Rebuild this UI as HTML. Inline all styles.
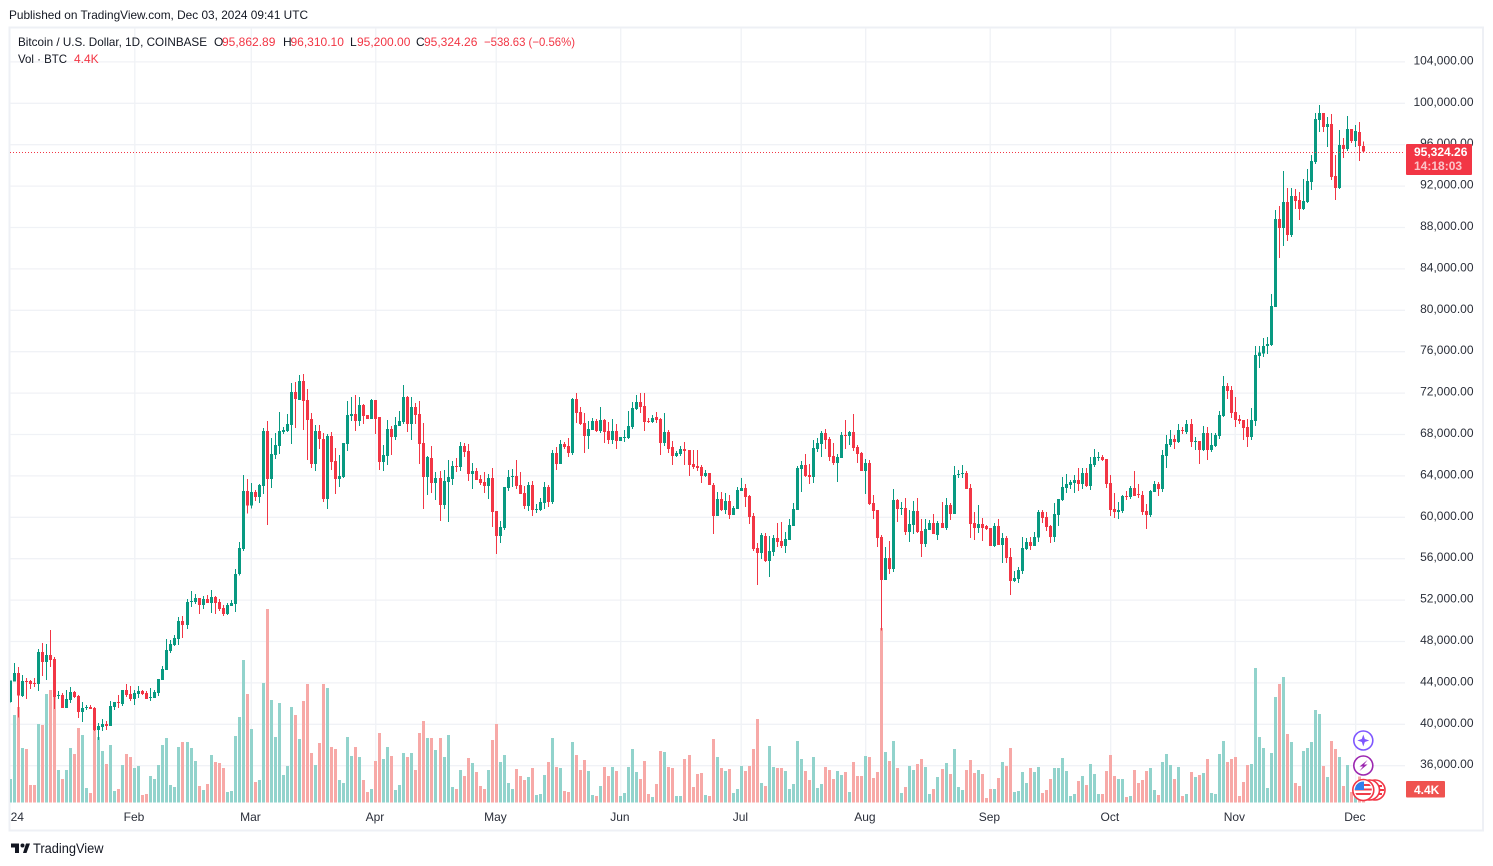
<!DOCTYPE html>
<html lang="en">
<head>
<meta charset="utf-8">
<title>BTC/USD daily chart</title>
<style>
html,body{margin:0;padding:0;background:#fff;width:1493px;height:866px;overflow:hidden}
svg{display:block;font-family:"Liberation Sans",sans-serif}
text{font-size:12px;fill:#131722}
.red{fill:#f23645}
.axis{fill:#2a2e39}
</style>
</head>
<body>
<svg id="root" width="1493" height="866" viewBox="0 0 1493 866">
  <defs>
    <clipPath id="pane"><rect x="10" y="28" width="1395" height="775"/></clipPath>
    <clipPath id="flag-a"><circle cx="1363.3" cy="790" r="8.5"/></clipPath>
  </defs>
  <text x="9" y="19" textLength="299" lengthAdjust="spacingAndGlyphs">Published on TradingView.com, Dec 03, 2024 09:41 UTC</text>
  <rect x="9.5" y="27.5" width="1473.5" height="803" fill="#fff" stroke="#eef0f5" stroke-width="2"/>
  <g id="grid"></g>
  <g id="volumes" clip-path="url(#pane)" shape-rendering="crispEdges"></g>
  <g id="candles" clip-path="url(#pane)" shape-rendering="crispEdges"></g>
  <line id="last-line" x1="10" x2="1405" stroke="#f23645" stroke-width="1" stroke-dasharray="1 2"/>
  <g id="price-axis"></g>
  <g id="time-axis"></g>

  <g>
    <text x="18" y="46" textLength="189" lengthAdjust="spacingAndGlyphs">Bitcoin / U.S. Dollar, 1D, COINBASE</text>
    <text x="214" y="46">O</text>
    <text x="222" y="46" class="red">95,862.89</text>
    <text x="283" y="46">H</text>
    <text x="290.500" y="46" class="red">96,310.10</text>
    <text x="350" y="46">L</text>
    <text x="357" y="46" class="red">95,200.00</text>
    <text x="416" y="46">C</text>
    <text x="424" y="46" class="red">95,324.26</text>
    <text x="484" y="46" textLength="91" lengthAdjust="spacingAndGlyphs" class="red">−538.63 (−0.56%)</text>
    <text x="18" y="63" textLength="49" lengthAdjust="spacingAndGlyphs">Vol · BTC</text>
    <text x="74" y="63" class="red">4.4K</text>
  </g>

  <g>
    <rect id="last-box" x="1406" y="144" width="66" height="31" rx="1" fill="#f23645"/>
    <text id="last-text" x="1414" y="156" font-weight="bold" style="fill:#fff"></text>
    <text x="1414" y="170" font-weight="bold" style="fill:#fbc4c9">14:18:03</text>
  </g>
  <g>
    <rect x="1406" y="781" width="39" height="16.500" rx="1" fill="#ef5350"/>
    <text x="1414" y="794" font-weight="bold" style="fill:#fff">4.4K</text>
  </g>

  <g>
    <circle cx="1363.3" cy="740.500" r="9.500" fill="#fff" stroke="#7e57ff" stroke-width="1.600"/>
    <path d="M1363.3 734.500 L1364.8 739 L1369.300 740.500 L1364.800 742 L1363.300 746.500 L1361.800 742 L1357.300 740.500 L1361.800 739Z" fill="#7e57ff"/>
  </g>
  <g>
    <circle cx="1363.3" cy="765.500" r="9.500" fill="#fff" stroke="#9c27b0" stroke-width="1.600"/>
    <path d="M1367.500 760 L1359.500 766.500 L1363 766.500 L1359.500 771 L1367.500 764.500 L1364 764.500Z" fill="#9c27b0"/>
  </g>
  <g>
    <circle cx="1375" cy="790" r="10" fill="#fff" stroke="#f23645" stroke-width="1.600"/>
    <path d="M1376 786H1382M1376 790H1384M1376 794H1382" stroke="#f23645" stroke-width="2" fill="none"/>
    <circle cx="1369.500" cy="790" r="10" fill="#fff" stroke="#f23645" stroke-width="1.600"/>
    <circle cx="1363.3" cy="790" r="10.500" fill="#fff" stroke="#f23645" stroke-width="1.600"/>
    <g clip-path="url(#flag-a)">
      <rect x="1354" y="781" width="19" height="18" fill="#fff"/>
      <path d="M1354 785H1373M1354 789.500H1373M1354 794H1373" stroke="#ef3d4a" stroke-width="2"/>
      <rect x="1354" y="781" width="10" height="9" fill="#2f80ed"/>
    </g>
  </g>

  <g>
    <path d="M11 843.500H19V853H15V847.500H11Z M23 853L26 843.500H30L26.500 853Z" fill="#131722"/>
    <circle cx="22.500" cy="845.500" r="2" fill="#131722"/>
    <text x="33" y="853" textLength="70.500" lengthAdjust="spacingAndGlyphs" style="font-size:13.500px">TradingView</text>
  </g>
</svg>

<script>
const monthLabels = ["24","Feb","Mar","Apr","May","Jun","Jul","Aug","Sep","Oct","Nov","Dec"];
const monthDays = [0,31,60,91,121,152,182,213,244,274,305,335];
const priceTicks = [104000,100000,96000,92000,88000,84000,80000,76000,72000,68000,64000,60000,56000,52000,48000,44000,40000,36000];
const opens = [
42165,44130,44966,42712,44193,44193,44000,43904,46995,46029,
46705,46319,42780,42840,41585,42358,43131,42744,41199,41585,
41682,41585,39460,39750,40040,39846,41682,42165,41971,43324,
42937,42455,42937,43227,43034,42551,42551,43034,44290,45256,
47092,47671,48251,49989,49603,51825,51825,52211,51535,52115,
51728,52308,51825,51245,50666,51439,51632,54530,56945,62547,
61130,62451,61968,63030,68343,63707,66025,66894,68247,68343,
68923,72111,71338,73173,71338,69503,65156,68343,67571,61774,
67860,65446,63707,63900,67088,69793,69986,69309,70855,69889,
69503,71338,69696,65349,65928,68537,67764,68826,69213,71628,
69020,70662,69986,67184,63900,65735,63320,63803,61195,63417,
63707,64962,64865,66894,66412,64190,64479,63707,63417,63030,
63803,60616,58200,58973,62838,63900,63997,63127,62354,61098,
63127,60712,60712,61388,62934,61485,66218,65156,67088,66894,
66218,71435,70179,69116,67860,68440,69309,68343,69406,68343,
67474,68343,67377,67667,67667,68730,70469,71145,70758,69309,
69213,69696,69503,67184,68247,66798,65928,66122,66605,66508,
65156,64962,64866,63996,64286,63127,60132,61775,60712,61581,
60229,60808,62547,62837,62064,60132,57041,56558,58200,55785,
56655,58007,57717,57235,57814,59166,60712,64673,65059,64093,
63900,66605,67088,68150,67571,65929,65252,65736,67957,67860,
68247,66798,66218,64479,65252,61388,60712,58104,53950,56075,
55013,61678,60809,60905,58587,59263,60616,58683,57427,58780,
59456,58297,59456,58973,61195,60326,64093,64190,64286,62837,
59456,58973,59360,59166,58973,57235,59166,57331,58007,56172,
53853,54047,54820,56945,57621,57234,58040,60519,60036,59166,
58104,60229,61678,62838,63127,63320,63610,63224,64286,63030,
65059,65736,65832,65639,63320,60809,60519,60616,62064,61968,
62837,62257,62161,60616,60229,62451,63224,62741,65928,66991,
67571,67281,68440,68247,69020,67281,67377,66508,68150,66508,
66894,67860,69793,72690,72304,70179,69503,69406,68730,67764,
69310,75600,75846,76555,76652,80323,88824,87954,90466,87278,
91045,90659,89790,90466,92398,94330,98388,99063,97711,97999,
92978,91818,95972,95586,97518,96358,97228,95862.89
];
const highs = [
44250,45932,45546,44773,44483,44290,44483,47285,47864,47768,
49120,46512,43227,43034,43324,43614,43227,42841,42165,41875,
41875,41682,40136,40523,40330,42262,42165,42841,43324,43904,
43710,43324,43710,43324,43227,43517,43324,44387,45642,48251,
48154,48637,50376,50473,52115,52887,52598,52211,52404,52501,
52984,52404,52115,51535,51728,52018,55013,57621,64093,63707,
63320,62644,63224,68633,69309,67667,68150,70179,68730,69986,
72980,73077,73753,73850,72401,70082,68923,68923,68150,68054,
68247,66701,66025,67184,71241,71628,71821,71628,70952,69889,
71435,71338,69696,66991,69406,68826,69696,70276,72787,71725,
71628,71048,71241,69116,65928,66894,64383,64479,64576,65542,
65446,65735,67281,67184,67088,65252,64769,64093,64383,64190,
64769,60616,59649,62934,64576,64673,65542,64383,63030,63417,
63513,61292,61871,63417,63127,66508,66798,67474,67281,67667,
71531,72014,70662,70082,69309,69599,69503,70662,69503,69213,
69503,69020,67764,68440,70276,71145,71821,72014,72014,69599,
69889,70179,69599,70082,68440,67377,66412,66894,67281,66508,
66508,66508,65059,64576,64286,63320,62451,62451,62354,62161,
61098,62934,63803,63224,62161,60422,57524,58490,58490,58200,
58297,59456,59553,58587,59843,61388,64962,65446,66122,65156,
67474,67667,68343,68537,67764,67184,66122,68247,69406,68343,
69986,66991,66315,65639,65542,62161,60712,58297,57138,57717,
62741,61775,61485,61871,60712,61582,61871,59843,59843,59746,
60326,59650,61485,61871,61388,64962,64576,65059,64479,63224,
60519,61195,59940,59263,58973,59456,59843,58490,58200,57041,
54820,55206,58104,58007,58104,58587,60712,60712,60519,59263,
61388,61775,63900,64190,63610,64093,64769,64769,64769,65832,
66605,66315,66025,65639,64093,62354,61485,62161,62547,63030,
64480,63224,62547,61292,62644,63513,63417,66508,67957,68440,
67957,69020,68730,69406,69503,67764,67377,68826,68730,68150,
68150,70276,73656,72980,72690,71628,69889,69406,69503,70566,
76555,76555,77328,77425,81578,89693,90079,93460,91818,91818,
91722,91432,92688,93654,95006,99063,99836,99063,98677,98967,
95006,97421,96648,98773,97518,97904,98194,96310.10
];
const lows = [
42100,44130,40650,42648,42455,43420,43614,43227,44676,44290,
45546,41488,42455,41585,41585,42068,42551,40619,40233,41392,
41488,39364,38493,39364,39460,39846,41392,41585,41778,42648,
42262,41875,42551,42841,42455,42262,42551,42744,44290,45256,
46898,47574,47671,48347,49217,51342,51632,50666,51149,51728,
50762,50666,50955,50473,50569,51439,50859,54400,56751,60358,
60841,61582,61388,62258,59263,62837,65639,66122,68054,68247,
67088,68633,71338,68440,65542,64769,64479,66605,61485,60808,
64576,62258,62934,63803,66412,69309,68343,68826,69020,69503,
69503,68054,64576,64479,65059,66025,67474,68826,69020,68247,
67474,69020,65156,60808,62161,62354,61678,59649,60808,59553,
63127,64383,64479,65832,63513,62741,63610,63127,62354,61774,
59070,56462,57524,58780,62547,62934,62741,62257,60809,60615,
60132,60422,60615,60809,61002,61292,64576,65156,66605,65832,
66025,69116,68923,66218,66605,68440,68247,68150,67184,67088,
67088,66605,67377,67281,67571,68537,70372,70082,68343,69116,
69116,69116,66025,66894,66218,65059,65832,65928,65059,64006,
64673,64480,63320,63900,63127,58394,60132,60615,60326,59842,
60229,60808,62547,60997,59360,56751,53467,55978,55689,54240,
56268,57138,57041,56558,57814,59166,60712,62451,63900,63224,
63320,66315,65832,66605,65446,65059,63417,65736,66605,66991,
66412,65252,64479,62258,61195,59843,57138,49050,53950,54530,
54723,59553,60229,58297,57621,58394,58490,56172,57138,58780,
58394,57814,58973,58780,59746,60326,63803,63803,62741,58007,
57814,58490,57717,58780,57235,57138,57331,55592,55592,52501,
53757,53660,54530,56848,56848,57234,57621,59456,58683,57524,
57621,59166,61581,62354,62741,62354,62547,62741,62934,62644,
64866,65446,65446,62837,60132,59939,59842,60422,61678,61775,
62064,61871,60229,58877,60036,62451,62064,62451,64769,66798,
66605,67184,68054,68054,66798,66508,65156,66412,65542,66315,
66798,67571,69696,71435,69599,68730,69020,67474,66798,67474,
68800,74430,75493,75783,76555,80323,85056,86215,86698,87085,
89790,88727,89693,90369,91625,94137,97228,97228,95779,92591,
90659,91722,94716,95393,96165,95779,94426,95200
];
const closes = [
44226,44966,42780,44193,44097,43904,43904,46995,46029,46705,
46222,42648,42840,41585,42455,43131,42648,41199,41585,41682,
41488,39460,39846,40040,39846,41778,42165,42068,43324,42841,
42455,43034,43227,42937,42455,42648,43131,44387,45353,47188,
47768,48347,49989,49603,51825,51921,52211,51535,52115,51728,
52308,51728,51149,50666,51535,51728,54530,57041,62547,61130,
62451,61968,63127,68343,63707,66122,66991,68343,68440,69020,
72111,71435,73173,71241,69406,65156,68343,67571,61774,67860,
65349,63707,63996,67184,69889,69986,69309,70855,69793,69503,
71338,69503,65349,66025,68537,67764,68923,69309,71628,69020,
70662,69889,67088,63900,65832,63320,63803,61195,63513,63900,
64962,64865,66894,66315,64190,64479,63610,63320,63030,63803,
60519,58200,59070,62934,63900,63997,63030,62257,61098,63127,
60712,60809,61485,62934,61485,66218,65156,67088,66798,66218,
71435,70082,69020,67860,68537,69309,68343,69406,68247,67474,
68343,67377,67764,67764,68827,70565,71145,70662,69213,69213,
69599,69406,67184,68247,66605,65928,66218,66605,66412,65059,
64866,64769,63996,64286,63127,60132,61775,60712,61581,60229,
60905,62644,62837,61968,60035,56945,56558,58297,55785,56751,
58007,57621,57235,57911,59263,60809,64769,65059,63996,63900,
66701,67184,68150,67474,65832,65252,65832,67957,67860,68247,
66701,66122,64479,65252,61292,60616,58007,53950,56075,55013,
61678,60809,60905,58587,59360,60616,58587,57427,58877,59456,
58394,59456,58973,61195,60326,64093,64190,64286,62741,59360,
58973,59360,58973,58877,57235,59166,57331,58007,56075,53853,
54143,54916,57041,57621,57234,58104,60519,59939,59070,58104,
60326,61775,62934,63224,63417,63610,63224,64286,63030,65156,
65832,65832,65542,63224,60712,60519,60712,62064,61968,62837,
62064,62161,60519,60229,62547,63224,62741,66025,67088,67571,
67281,68440,68343,69020,67281,67377,66508,68150,66508,66991,
67957,69889,72690,72207,70082,69406,69309,68633,67764,69406,
75686,75944,76555,76748,80419,88824,87954,90466,87278,91045,
90562,89790,90562,92495,94426,98484,99063,97711,97999,92881,
91818,95972,95586,97518,96358,97325,95863,95324.26
];
const volumesK = [
9.5,35,38.3,21.9,21.5,7,7,31.5,31,43.5,
45,45,13,9.5,13,21.9,19.5,29.9,27,5.9,
3.9,29,26.3,20.7,15.5,23,4.7,5.5,15,19.5,
18.3,13.9,14.7,3.1,3.5,10.7,9.5,15,23,25.9,
7,6.3,22.3,24.3,24.3,21.9,16.7,6.7,5.1,7.5,
19.1,16.3,15.9,13.9,4.3,4.7,26.7,34.3,57,43.5,
29.5,8.3,9.1,47.9,77.5,41,26.3,39.9,11.1,14.7,
38.3,35,25.5,40.7,47.5,19.9,15,23.9,47.5,45.9,
22.3,21.5,9.1,7.9,26.3,18.7,22.3,18.3,9.1,4.3,
5.5,16.7,27.9,17.5,22.3,18.7,5.1,7.1,19.9,18.3,
19.9,13.1,27.9,32.7,25.9,25.9,21.1,25.9,18.3,27.1,
6.3,5.5,13.1,10.7,17.9,15.9,12.3,6.7,5.5,13.1,
25.1,31.5,16.3,19.1,7.9,5.5,13.5,10.7,9.1,10.3,
13.9,3.1,3.5,11.1,16.3,25.9,14.3,13.9,4.7,4.3,
24.3,19.1,13.1,17.1,12.7,3.1,2.7,6.7,14.3,10.7,
14.3,12.7,2.7,3.9,14.3,21.5,12.3,9.5,16.7,3.5,
2.3,7.5,20.7,20.3,14.3,13.9,2.7,2.7,17.5,19.1,
6.3,11.5,11.9,3.1,2.7,25.5,18.3,13.9,12.7,13.5,
3.9,5.5,14.7,12.7,14.7,21.5,33.5,7.9,6.7,22.7,
14.3,13.9,13.9,12.7,5.5,7.5,24.7,17.5,12.7,9.1,
18.3,5.9,7.5,14.3,13.1,9.5,12.7,11.1,12.3,4.3,
16.3,10.7,10.7,18.7,18.3,9.9,12.3,69.9,20.3,16.7,
24.7,13.9,3.9,6.3,14.7,13.1,15.5,17.5,14.3,3.5,
5.5,10.3,13.5,15.9,11.5,21.5,6.3,5.1,13.1,17.1,
11.9,13.1,11.5,1.9,5.5,5.5,9.9,16.3,14.7,21.9,
4.3,4.7,12.3,7.9,13.9,12.3,14.3,3.9,5.1,9.5,
13.9,13.9,17.9,12.7,2.7,3.5,8.7,10.7,7.1,15.5,
11.5,3.5,3.5,12.7,19.1,10.7,9.5,9.5,2.3,2.7,
13.1,7.9,9.1,12.7,13.9,5.1,3.1,16.3,19.5,15.1,
9.5,14.3,2.7,3.5,12.3,10.3,11.1,11.9,17.5,3.9,
3.5,19.5,24.7,16.3,17.5,18.3,2.7,8.3,15.1,15.5,
53.9,26.3,21.9,5.9,19.9,42.3,47.5,50.3,27.5,24.3,
7.9,6.7,20.7,21.9,24.3,37.1,35.5,14.7,10.3,24.7,
21.5,18.3,6.7,15.1,4.3,3.7,10.4,4.4
];

const NS = "http://www.w3.org/2000/svg";
function priceY(p){ return 103.3 + (100000 - p) * 0.01035; }
function timeX(d){ return 10.3 + d * 4.016; }
function volumeY(v){ return 802.7 - v * 2.5; }
function make(tag, attrs, parent){
  const el = document.createElementNS(NS, tag);
  for (const k in attrs) el.setAttribute(k, attrs[k]);
  parent.appendChild(el);
  return el;
}
function formatPrice(p){
  return p.toLocaleString("en-US", {minimumFractionDigits:2, maximumFractionDigits:2});
}

const gridG = document.getElementById("grid");
const priceG = document.getElementById("price-axis");
const timeG = document.getElementById("time-axis");
const volG = document.getElementById("volumes");
const candleG = document.getElementById("candles");

priceTicks.forEach(function(p){
  const y = priceY(p);
  const line = make("line", {x1:10, x2:1405, y1:y, y2:y, stroke:"#f0f2f6", "stroke-width":1.3}, gridG);
  
  
  const t = make("text", {x:1473.5, y:y + 2.5, "text-anchor":"end", class:"axis"}, priceG);
  
  
  t.textContent = formatPrice(p);
});

monthDays.forEach(function(d, i){
  const x = timeX(d);
  if (i > 0) {
    const line = make("line", {x1:x, x2:x, y1:28, y2:803, stroke:"#f0f2f6", "stroke-width":1.3}, gridG);
    
    
  }
  const t = make("text", {x: i === 0 ? x + 7 : x - 0.8, y:821, "text-anchor":"middle", class:"axis"}, timeG);
  
  
  t.textContent = monthLabels[i];
});

closes.forEach(function(c, i){
  const up = c >= opens[i];
  const px = Math.floor(timeX(i));
  const vy = volumeY(volumesK[i]);
  const bar = make("rect", {x:px - 1, y:vy, width:3, height:802.7 - vy, fill: up ? "#92d3cc" : "#f7a9a7"}, volG);
  
  

  const color = up ? "#089981" : "#f23645";
  const wick = make("rect", {x:px, y:priceY(highs[i]), width:1, height:priceY(lows[i]) - priceY(highs[i]), fill:color}, candleG);
  
  
  const top = priceY(Math.max(opens[i], c));
  const bottom = priceY(Math.min(opens[i], c));
  const body = make("rect", {x:px - 1, y:top, width:3, height:Math.max(1, bottom - top), fill:color}, candleG);
  
  
});

const lastClose = closes[closes.length - 1];
const lastLine = document.getElementById("last-line");
const lastY = Math.round(priceY(lastClose)) + 0.5;
lastLine.setAttribute("y1", lastY);
lastLine.setAttribute("y2", lastY);
document.getElementById("last-text").textContent = formatPrice(lastClose);
</script>
</body>
</html>
